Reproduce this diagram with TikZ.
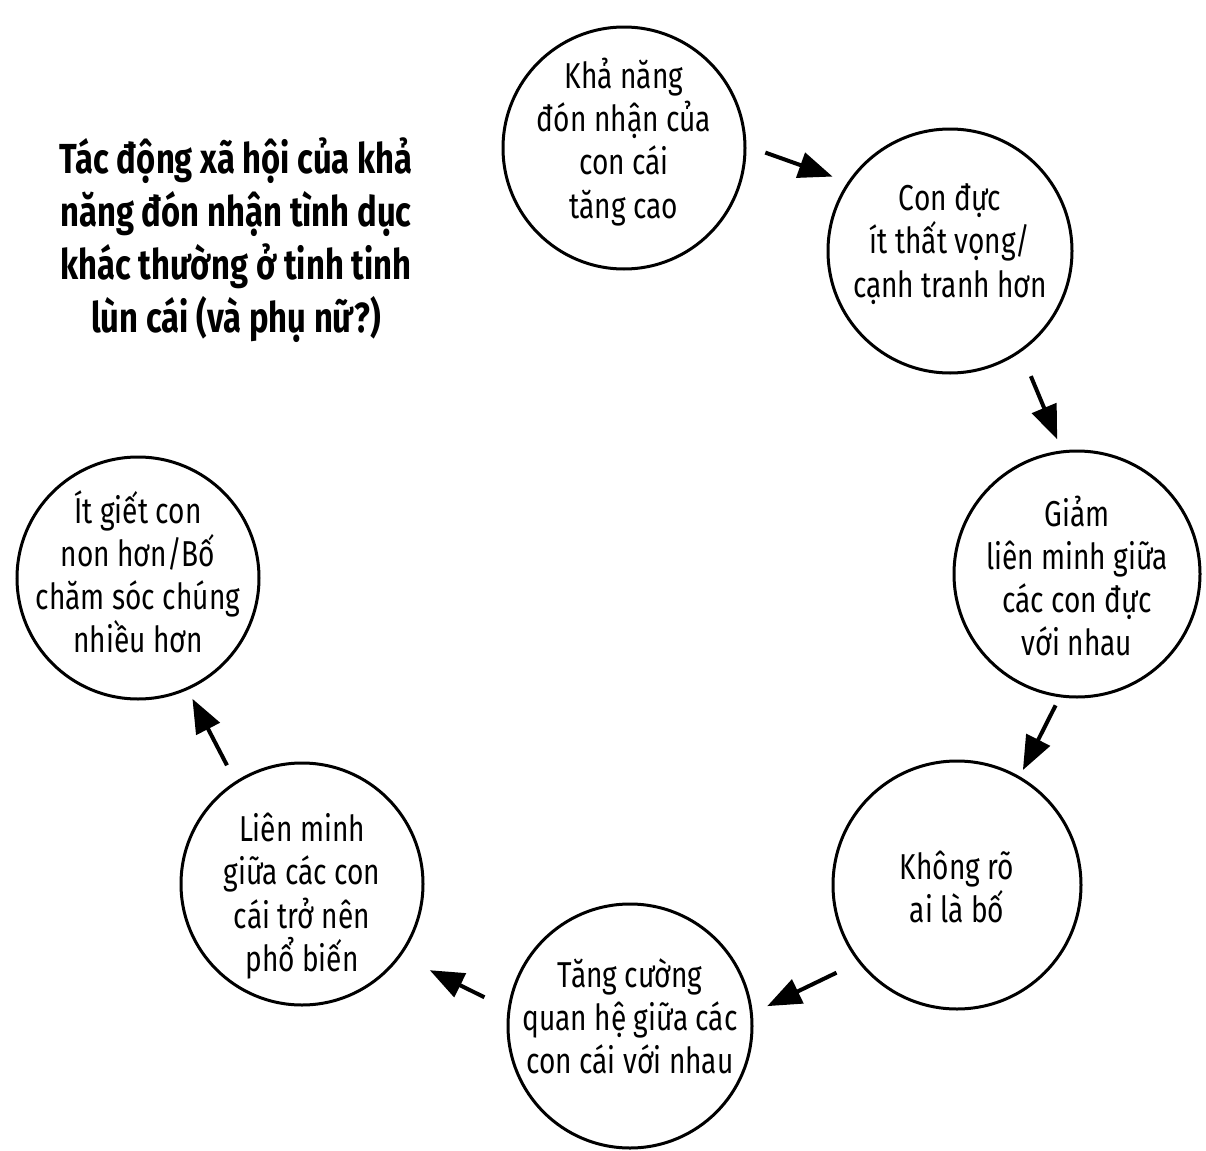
\documentclass[tikz,border=0pt]{standalone}
\usepackage{fontspec}
\setmainfont{Fira Sans}[FakeStretch=0.78]
\usetikzlibrary{arrows.meta}
\begin{document}
\begin{tikzpicture}[x=0.5pt,y=-0.5pt]
\useasboundingbox[fill=white] (0,0) rectangle (1206,1151);
\tikzset{
  stage/.style={circle, draw, line width=1.5pt, minimum size=#1, inner sep=0pt},
  stagetext/.style={align=center, inner sep=0pt, font=\fontsize{18}{21.6}\selectfont},
  flow/.style={line width=2pt, -{Triangle[length=17pt,width=13pt]}},
  heading/.style={align=center, font=\bfseries\fontsize{21}{26.5}\selectfont}
}
\node[heading] (title) at (236,240) {Tác động xã hội của khả\\năng đón nhận tình dục\\khác thường ở tinh tinh\\lùn cái (và phụ nữ?)};

\node[stage=121pt] (c1) at (624,148) {};
\node[stage=122pt] (c2) at (950,251) {};
\node[stage=123pt] (c3) at (1077,574) {};
\node[stage=124pt] (c4) at (957,885) {};
\node[stage=122pt] (c5) at (630,1026) {};
\node[stage=121pt] (c6) at (302,884) {};
\node[stage=121pt] (c7) at (138,578) {};

\node[stagetext] (t1) at ([yshift=3pt]c1.center) {Khả năng\\đón nhận của\\con cái\\tăng cao};
\node[stagetext] (t2) at ([yshift=3.5pt]c2.center) {Con đực\\ít thất vọng/\\cạnh tranh hơn};
\node[stagetext] (t3) at ([yshift=-1pt]c3.center) {Giảm\\liên minh giữa\\các con đực\\với nhau};
\node[stagetext] (t4) at ([yshift=-1pt]c4.center) {Không rõ\\ai là bố};
\node[stagetext] (t5) at ([yshift=5pt]c5.center) {Tăng cường\\quan hệ giữa các\\con cái với nhau};
\node[stagetext] (t6) at ([yshift=-6pt]c6.center) {Liên minh\\giữa các con\\cái trở nên\\phổ biến};
\node[stagetext] (t7) at ([yshift=3pt]c7.center) {Ít giết con\\non hơn/Bố\\chăm sóc chúng\\nhiều hơn};

\draw[flow, shorten <=10pt, shorten >=8pt] (c1.1) -- (c2.146.5);
\draw[flow, shorten <=13pt, shorten >=6pt] (c2.-55) -- (c3.97);
\draw[flow, shorten <=4.5pt, shorten >=3.5pt] (c3.-98) -- (c4.60);
\draw[flow, shorten <=12pt, shorten >=8pt] (c4.218) -- (c5.6);
\draw[flow, shorten <=13pt, shorten >=16pt] (c5.172) -- (c6.-36);
\draw[flow, shorten <=9pt, shorten >=5pt] (c6.123) -- (c7.-66);
\end{tikzpicture}
\end{document}
